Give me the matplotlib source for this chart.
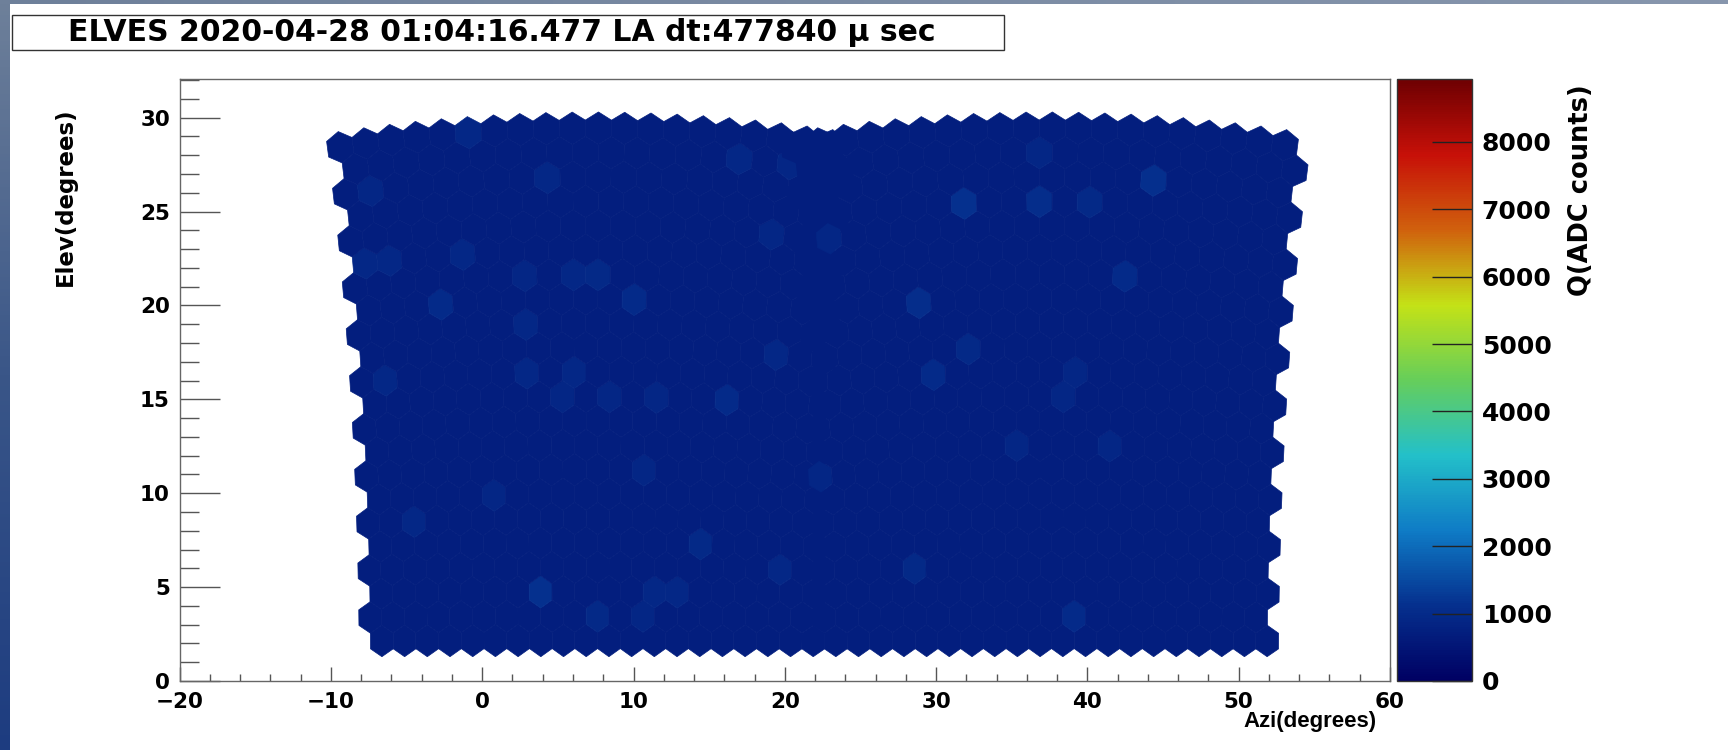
import numpy as np
import matplotlib
matplotlib.use("Agg")
import matplotlib.pyplot as plt
from matplotlib.collections import PolyCollection
from matplotlib.colors import LinearSegmentedColormap, Normalize
from matplotlib.patches import Rectangle
from matplotlib.ticker import MultipleLocator

plt.rcParams['font.family'] = ['DejaVu Sans']
plt.rcParams['font.weight'] = 'bold'

title_text = "ELVES 2020-04-28 01:04:16.477 LA dt:477840 \u03bc sec"

# two FD cameras side by side, 22 rows x 20 columns of 1.5 deg hex pixels
n_rows = 22
n_cols = 20
pix_deg = 1.5
cam_azi = [7.25, 37.25]   # azimuth of each camera axis
cam_elev = 15.8           # elevation of the camera axes
top_droop = 1.1           # upper rows bend down toward the camera sides

# charge per pixel (ADC counts): flat pedestal plus the pixels that stand out
q_pedestal = 700
hot_azi = [-0.9, 4.3, -7.6, -7.8, -6.2, -1.1, 2.7, 5.6, 7.6, -2.8, 10.0, 3.0,
           17.1, 19.9, 31.8, 36.7, 40.0, 44.1, 28.8, 42.4, 22.8, 36.2,
           -6.2, 3.0, 6.3, 5.4, 8.3, 11.3, 16.1, 11.3, 0.5, -4.5, 14.2,
           3.9, 7.6, 10.5, 13.1, 32.1, 29.6, 38.0, 35.1, 41.5, 22.2, 28.2,
           38.9, 19.4, 18.9, 11.8, 38.6, 19.8]
hot_elev = [29.1, 26.9, 26.3, 22.8, 22.8, 23.0, 21.7, 21.6, 21.6, 20.2, 20.5, 19.2,
            27.8, 27.4, 25.5, 25.5, 25.5, 26.7, 20.3, 21.5, 23.7, 28.5,
            16.2, 16.5, 16.6, 15.1, 15.1, 15.1, 15.1, 11.3, 10.0, 8.6, 7.5,
            4.8, 3.6, 3.5, 5.0, 17.8, 16.5, 15.1, 12.5, 12.7, 11.1, 5.9,
            3.6, 6.1, 17.6, 4.7, 16.0, 24.0]
hot_q = [920, 920, 880, 920, 920, 920, 880, 920, 960, 1000, 1000, 920,
         920, 880, 1150, 1050, 960, 1100, 1050, 1000, 880, 880,
         920, 920, 920, 880, 880, 880, 1000, 880, 880, 920, 960,
         1150, 960, 880, 920, 960, 1000, 880, 880, 880, 880, 960,
         1000, 920, 920, 920, 880, 880]
q_max = 8935

# ROOT kRainBow palette
rb_red = [0, 5, 15, 35, 102, 196, 208, 199, 110]
rb_green = [0, 48, 124, 192, 206, 226, 97, 16, 0]
rb_blue = [99, 142, 198, 201, 90, 22, 13, 8, 2]
rainbow = LinearSegmentedColormap.from_list(
    'rainbow55', [(r / 255, g / 255, b / 255) for r, g, b in zip(rb_red, rb_green, rb_blue)], N=256)

# hexagon geometry in camera coordinates
R = pix_deg / np.sqrt(3)
row_step = pix_deg * np.sqrt(3) / 2
v_half = (n_rows - 1) / 2 * row_step + R
u_half = n_cols * pix_deg / 2
ang = np.radians(np.arange(30, 390, 60))
du, dv = R * np.cos(ang), R * np.sin(ang)


def to_sky(az0, u, v):
    frac = (v + v_half) / (2 * v_half)
    el = cam_elev + v - top_droop * frac * (u / u_half) ** 2
    az = az0 + u / np.cos(np.radians(el))
    return az, el


polys, centers = [], []
for az0 in cam_azi:
    for r in range(n_rows):
        v = (r - (n_rows - 1) / 2) * row_step
        shift = pix_deg / 4 if r % 2 == 0 else -pix_deg / 4
        for c in range(n_cols):
            u = (c - (n_cols - 1) / 2) * pix_deg + shift
            az, el = to_sky(az0, u + du, v + dv)
            polys.append(np.column_stack([az, el]))
            centers.append(to_sky(az0, u, v))

centers = np.array(centers)
q = np.full(len(polys), float(q_pedestal))
for a, e, val in zip(hot_azi, hot_elev, hot_q):
    k = np.argmin((centers[:, 0] - a) ** 2 + (centers[:, 1] - e) ** 2)
    q[k] = val

W, H = 1728, 750
fig = plt.figure(figsize=(W / 100, H / 100), dpi=100, facecolor='white')


def fx(px):
    return px / W


def fy(py):
    return 1 - py / H


# slide border strips
side = fig.add_axes([0, 0, fx(10), 1])
side.imshow(np.linspace(0, 1, 200)[:, None], aspect='auto',
            cmap=LinearSegmentedColormap.from_list('side', ['#6e809a', '#3a5688', '#1d3c80']))
side.axis('off')
top = fig.add_axes([0, fy(4), 1, 4 / H])
top.imshow(np.linspace(0, 1, 200)[None, :], aspect='auto',
           cmap=LinearSegmentedColormap.from_list('top', ['#6e809a', '#8796ad']))
top.axis('off')

ax = fig.add_axes([fx(179.6), fy(681), fx(1390) - fx(179.6), (681 - 79) / H])
cax = fig.add_axes([fx(1397), fy(681), fx(1472) - fx(1397), (681 - 79) / H])

pc = PolyCollection(polys, array=q, cmap=rainbow, norm=Normalize(0, q_max),
                    edgecolors='face', linewidths=0.5)
ax.add_collection(pc)
ax.set_xlim(-20, 60)
ax.set_ylim(0, 32.06)

ax.xaxis.set_major_locator(MultipleLocator(10))
ax.xaxis.set_minor_locator(MultipleLocator(2))
ax.yaxis.set_major_locator(MultipleLocator(5))
ax.yaxis.set_minor_locator(MultipleLocator(1))
ax.tick_params(axis='x', which='major', direction='in', length=10, width=1, pad=8,
               labelsize=15.5, color='#555555', top=False)
ax.tick_params(axis='x', which='minor', direction='in', length=5, width=1, color='#555555', top=False)
ax.tick_params(axis='y', which='major', direction='in', length=29, width=1, pad=7,
               labelsize=15.5, color='#555555', right=False)
ax.tick_params(axis='y', which='minor', direction='in', length=14, width=1, color='#555555', right=False)
for sp in ax.spines.values():
    sp.set_color('#666666')
    sp.set_linewidth(1)

ax.text(0.989, -0.068, 'Azi(degrees)', transform=ax.transAxes, ha='right', va='center',
        fontsize=16, family=['Liberation Sans', 'DejaVu Sans'])
fig.text(fx(65), fy(197), 'Elev(degrees)', rotation=90, ha='center', va='center', fontsize=16.5)

cb = fig.colorbar(pc, cax=cax)
cb.set_ticks(np.arange(0, 9000, 1000))
cb.minorticks_off()
cb.outline.set_linewidth(1)
cb.outline.set_edgecolor('#333333')
cax.tick_params(direction='in', length=29, width=1, pad=7, labelsize=18, color='#222222')
fig.text(fx(1581), fy(190), 'Q(ADC counts)', rotation=90, ha='center', va='center', fontsize=18.5)

# title box
fig.add_artist(Rectangle((fx(12), fy(49.5)), fx(1004) - fx(12), (49.5 - 15) / H,
                         transform=fig.transFigure, fill=False, ec='#333333', lw=1))
fig.text(fx(502), fy(32.5), title_text, ha='center', va='center', fontsize=21.5)

fig.savefig('out.png', dpi=100, facecolor='white')
